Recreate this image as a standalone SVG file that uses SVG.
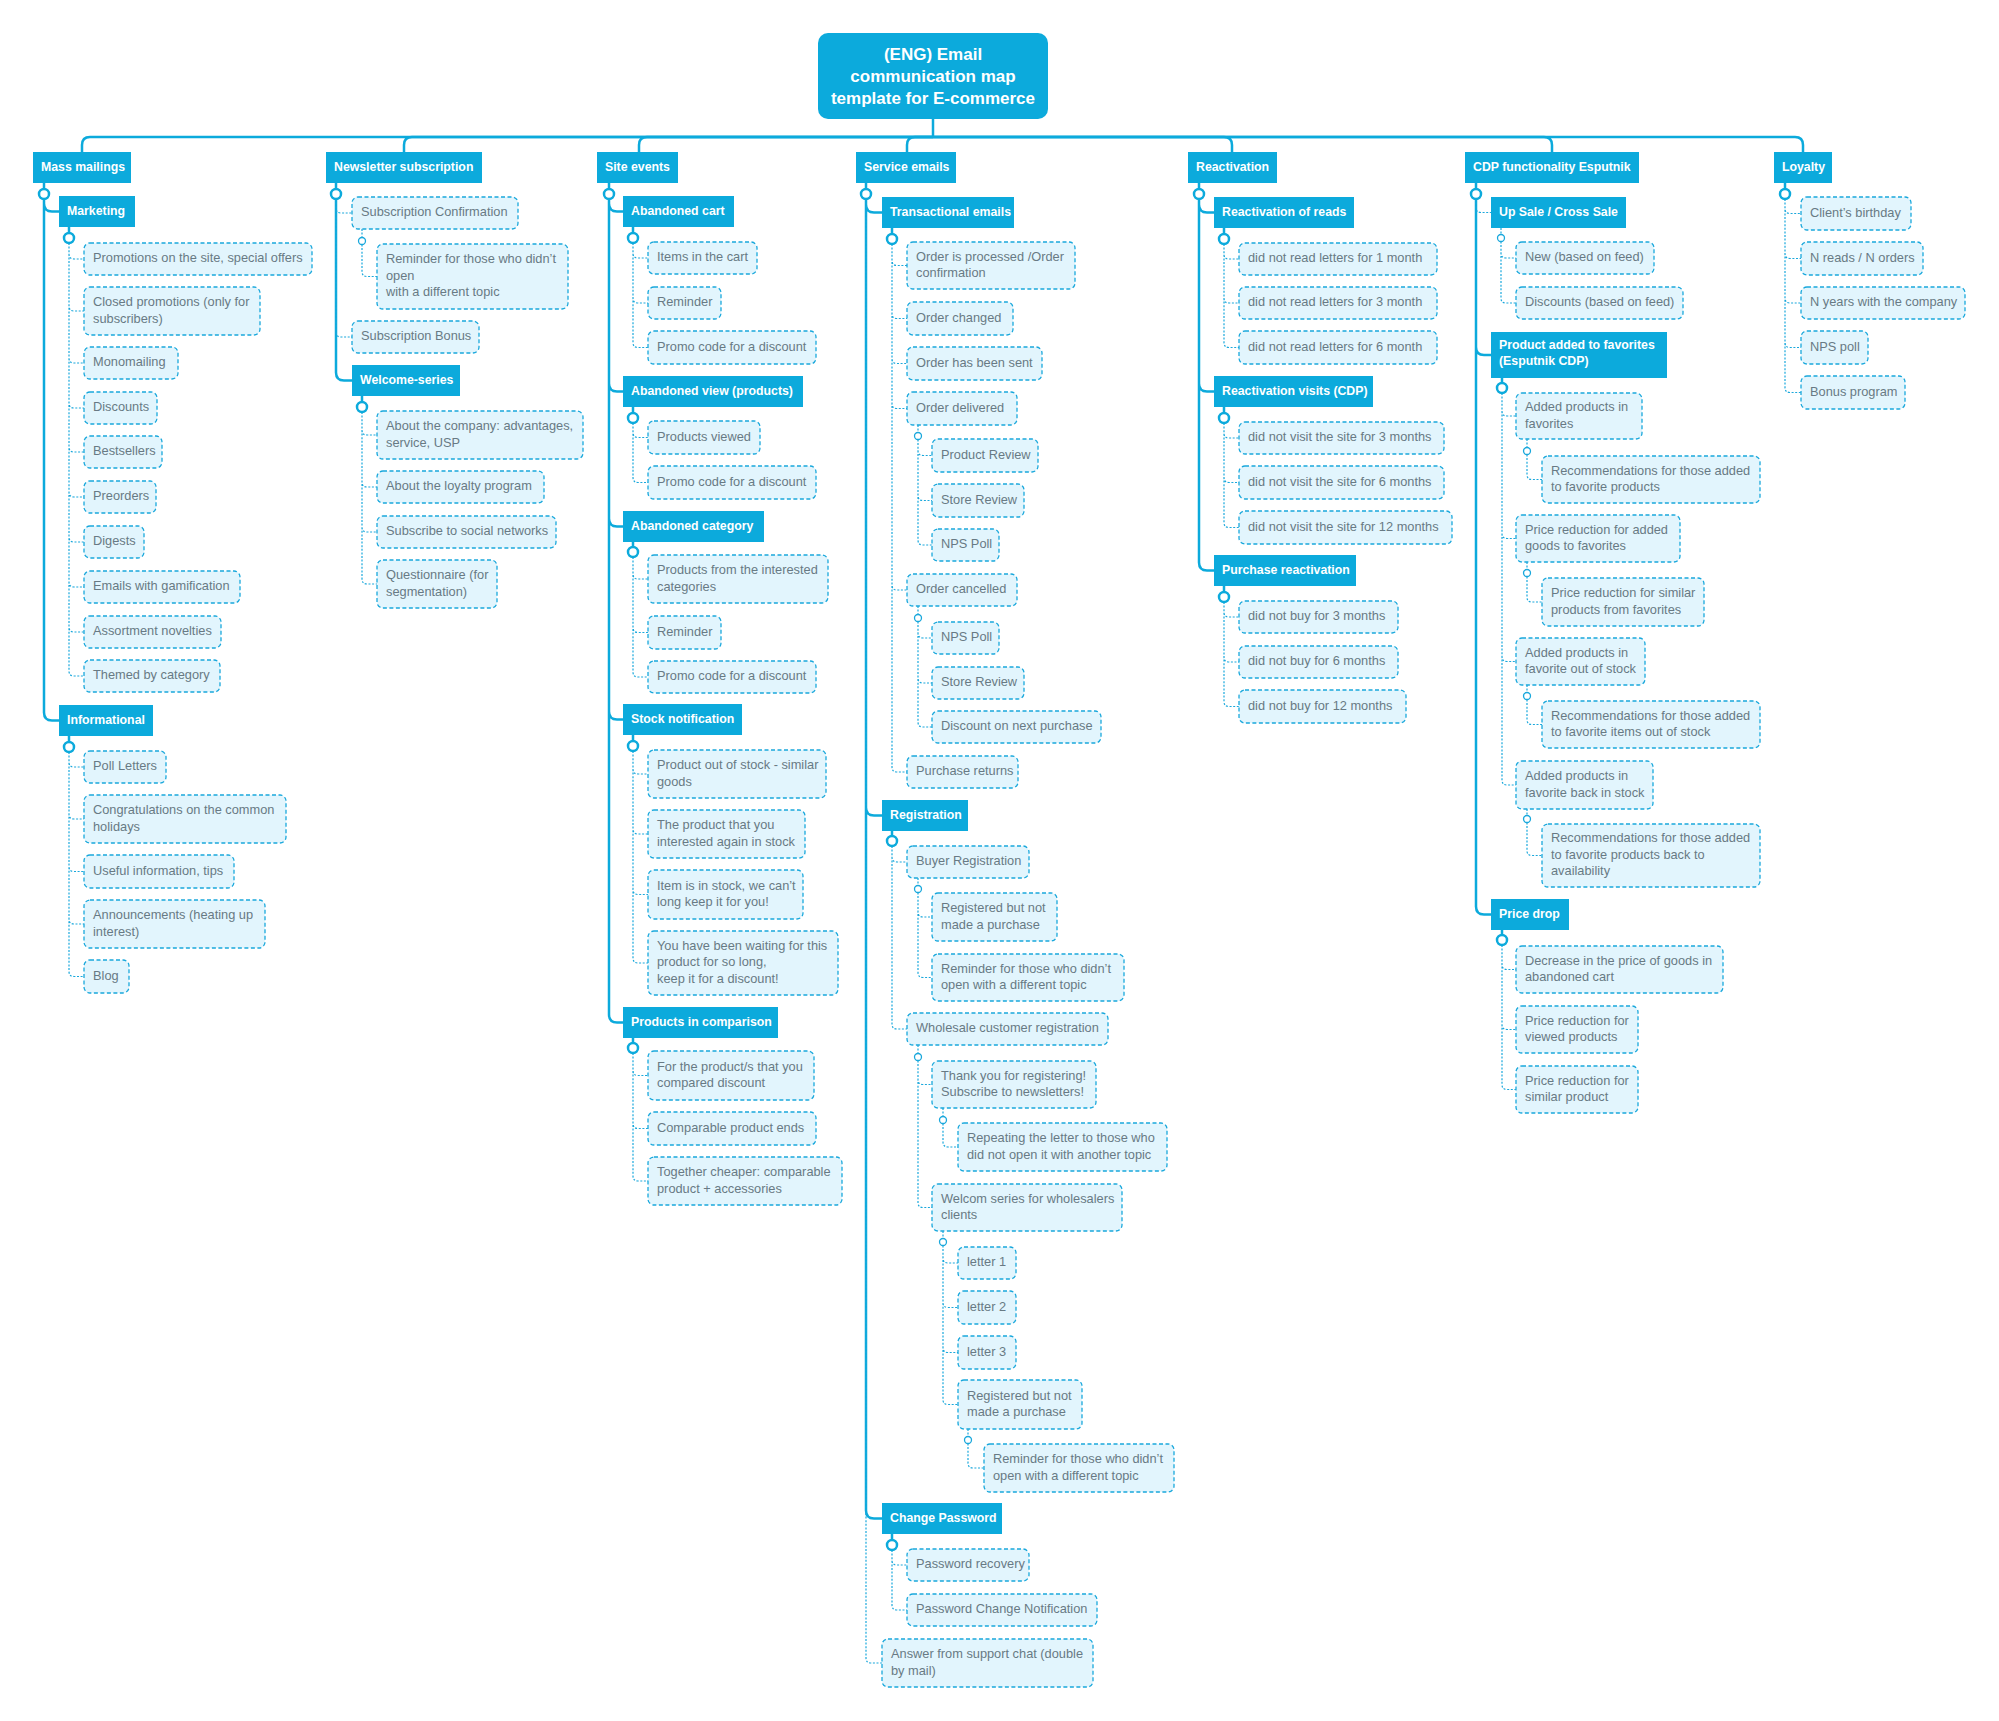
<svg xmlns="http://www.w3.org/2000/svg" width="1999" height="1721" viewBox="0 0 1999 1721">
<style>
.hb{fill:#0CAADC}
.ht{fill:#fff;font-family:"Liberation Sans",Arial,sans-serif;font-weight:bold;font-size:12.3px;transform:translateY(-1px)}
.tt{fill:#fff;font-family:"Liberation Sans",Arial,sans-serif;font-weight:bold;font-size:17px;text-anchor:middle}
.lf{fill:#E2F5FD;stroke:#1AA8DC;stroke-width:1.3;stroke-dasharray:4 2.5}
.lt{fill:#687A84;font-family:"Liberation Sans",Arial,sans-serif;font-size:12.8px;transform:translateY(-1.2px)}
.ts{fill:none;stroke:#0CAADC;stroke-width:2.5}
.td{fill:none;stroke:#1AA8DC;stroke-width:1.2;stroke-dasharray:2 1.6}
.cb{fill:#fff;stroke:#0CAADC;stroke-width:2.5}
.cs{fill:#fff;stroke:#1AA8DC;stroke-width:1.3}
</style>
<rect width="1999" height="1721" fill="#fff"/>
<g id="connectors">
<path class="ts" d="M933,119 V137"/>
<path class="ts" d="M933,137 H90 Q82,137 82,145 V152"/>
<path class="ts" d="M933,137 H412 Q404,137 404,145 V152"/>
<path class="ts" d="M933,137 H647 Q639,137 639,145 V152"/>
<path class="ts" d="M933,137 H915 Q907,137 907,145 V152"/>
<path class="ts" d="M933,137 H1224 Q1232,137 1232,145 V152"/>
<path class="ts" d="M933,137 H1544 Q1552,137 1552,145 V152"/>
<path class="ts" d="M933,137 H1795 Q1803,137 1803,145 V152"/>
<path class="ts" d="M44,183 V199 M44,199 V203.5 Q44,211.5 52,211.5 H59 M44,199 V712.5 Q44,720.5 52,720.5 H59"/>
<path class="ts" d="M69,227 V233 M69,736 V742"/>
<path class="td" d="M69,243 V254 Q69,259 74,259 H84 M69,243 V306 Q69,311 74,311 H84 M69,243 V358 Q69,363 74,363 H84 M69,243 V403 Q69,408 74,408 H84 M69,243 V447 Q69,452 74,452 H84 M69,243 V492 Q69,497 74,497 H84 M69,243 V537 Q69,542 74,542 H84 M69,243 V582 Q69,587 74,587 H84 M69,243 V627 Q69,632 74,632 H84 M69,243 V671 Q69,676 74,676 H84"/>
<path class="td" d="M69,752 V762 Q69,767 74,767 H84 M69,752 V814 Q69,819 74,819 H84 M69,752 V866.5 Q69,871.5 74,871.5 H84 M69,752 V919 Q69,924 74,924 H84 M69,752 V971.5 Q69,976.5 74,976.5 H84"/>
<path class="ts" d="M336,183 V189 M336,199 V372.5 Q336,380.5 344,380.5 H352 M362,396 V402"/>
<path class="td" d="M336,199 V208 Q336,213 341,213 H352 M336,199 V332 Q336,337 341,337 H352"/>
<path class="td" d="M362,229 V237.5 M362,244.5 V271.5 Q362,276.5 367,276.5 H377"/>
<path class="td" d="M362,412 V430 Q362,435 367,435 H377 M362,412 V482 Q362,487 367,487 H377 M362,412 V527 Q362,532 367,532 H377 M362,412 V579 Q362,584 367,584 H377"/>
<path class="ts" d="M609,183 V189 M609,199 V203.5 Q609,211.5 617,211.5 H623 M609,199 V383.5 Q609,391.5 617,391.5 H623 M609,199 V518.5 Q609,526.5 617,526.5 H623 M609,199 V711.5 Q609,719.5 617,719.5 H623 M609,199 V1014.5 Q609,1022.5 617,1022.5 H623"/>
<path class="ts" d="M633,227 V233 M633,407 V413 M633,542 V547 M633,735 V741 M633,1038 V1043"/>
<path class="td" d="M633,243 V253 Q633,258 638,258 H648 M633,243 V298 Q633,303 638,303 H648 M633,243 V342.5 Q633,347.5 638,347.5 H648"/>
<path class="td" d="M633,423 V432.5 Q633,437.5 638,437.5 H648 M633,423 V477.5 Q633,482.5 638,482.5 H648"/>
<path class="td" d="M633,557 V574 Q633,579 638,579 H648 M633,557 V627.5 Q633,632.5 638,632.5 H648 M633,557 V672 Q633,677 638,677 H648"/>
<path class="td" d="M633,751 V769 Q633,774 638,774 H648 M633,751 V829 Q633,834 638,834 H648 M633,751 V889.5 Q633,894.5 638,894.5 H648 M633,751 V958 Q633,963 638,963 H648"/>
<path class="td" d="M633,1053 V1070.5 Q633,1075.5 638,1075.5 H648 M633,1053 V1123.5 Q633,1128.5 638,1128.5 H648 M633,1053 V1176 Q633,1181 638,1181 H648"/>
<path class="ts" d="M866,183 V189 M866,199 V204.5 Q866,212.5 874,212.5 H882 M866,199 V807.5 Q866,815.5 874,815.5 H882 M866,199 V1510.5 Q866,1518.5 874,1518.5 H882"/>
<path class="td" d="M866,199 V1658 Q866,1663 871,1663 H882"/>
<path class="ts" d="M892,228 V234 M892,831 V836 M892,1534 V1540"/>
<path class="td" d="M892,244 V260.5 Q892,265.5 897,265.5 H907 M892,244 V313.5 Q892,318.5 897,318.5 H907 M892,244 V358.5 Q892,363.5 897,363.5 H907 M892,244 V403.5 Q892,408.5 897,408.5 H907 M892,244 V585 Q892,590 897,590 H907 M892,244 V767 Q892,772 897,772 H907"/>
<path class="td" d="M918,425 V432.5 M918,439.5 V450.5 Q918,455.5 923,455.5 H932 M918,439.5 V495.5 Q918,500.5 923,500.5 H932 M918,439.5 V540 Q918,545 923,545 H932"/>
<path class="td" d="M918,606 V614.5 M918,621.5 V633 Q918,638 923,638 H932 M918,621.5 V678 Q918,683 923,683 H932 M918,621.5 V722 Q918,727 923,727 H932"/>
<path class="td" d="M892,846 V857 Q892,862 897,862 H907 M892,846 V1024 Q892,1029 897,1029 H907"/>
<path class="td" d="M918,878 V885.5 M918,892.5 V912 Q918,917 923,917 H932 M918,892.5 V972.5 Q918,977.5 923,977.5 H932"/>
<path class="td" d="M918,1045 V1053.5 M918,1060.5 V1079.5 Q918,1084.5 923,1084.5 H932 M918,1060.5 V1202.5 Q918,1207.5 923,1207.5 H932"/>
<path class="td" d="M943,1108 V1116.5 M943,1123.5 V1142 Q943,1147 948,1147 H958"/>
<path class="td" d="M943,1231 V1238.5 M943,1245.5 V1258 Q943,1263 948,1263 H958 M943,1245.5 V1302.5 Q943,1307.5 948,1307.5 H958 M943,1245.5 V1347.5 Q943,1352.5 948,1352.5 H958 M943,1245.5 V1399.5 Q943,1404.5 948,1404.5 H958"/>
<path class="td" d="M968,1429 V1436.5 M968,1443.5 V1463 Q968,1468 973,1468 H984"/>
<path class="td" d="M892,1550 V1560 Q892,1565 897,1565 H907 M892,1550 V1605 Q892,1610 897,1610 H907"/>
<path class="ts" d="M1199,183 V189 M1199,199 V204.5 Q1199,212.5 1207,212.5 H1214 M1199,199 V383.5 Q1199,391.5 1207,391.5 H1214 M1199,199 V562.5 Q1199,570.5 1207,570.5 H1214"/>
<path class="ts" d="M1224,228 V234 M1224,407 V413 M1224,586 V592"/>
<path class="td" d="M1224,244 V254 Q1224,259 1229,259 H1239 M1224,244 V298 Q1224,303 1229,303 H1239 M1224,244 V342.5 Q1224,347.5 1229,347.5 H1239"/>
<path class="td" d="M1224,423 V433 Q1224,438 1229,438 H1239 M1224,423 V477.5 Q1224,482.5 1229,482.5 H1239 M1224,423 V522.5 Q1224,527.5 1229,527.5 H1239"/>
<path class="td" d="M1224,602 V612 Q1224,617 1229,617 H1239 M1224,602 V657 Q1224,662 1229,662 H1239 M1224,602 V701.5 Q1224,706.5 1229,706.5 H1239"/>
<path class="ts" d="M1476,183 V189 M1476,199 V347 Q1476,355 1484,355 H1491 M1476,199 V906.5 Q1476,914.5 1484,914.5 H1491"/>
<path class="td" d="M1476,199 V207.5 Q1476,212.5 1481,212.5 H1491"/>
<path class="td" d="M1501,228 V234.5 M1501,241.5 V253 Q1501,258 1506,258 H1516 M1501,241.5 V298 Q1501,303 1506,303 H1516"/>
<path class="ts" d="M1502,378 V383 M1502,930 V935"/>
<path class="td" d="M1502,393 V411 Q1502,416 1507,416 H1516 M1502,393 V533.5 Q1502,538.5 1507,538.5 H1516 M1502,393 V656.5 Q1502,661.5 1507,661.5 H1516 M1502,393 V780 Q1502,785 1507,785 H1516"/>
<path class="td" d="M1527,439 V447.5 M1527,454.5 V474.5 Q1527,479.5 1532,479.5 H1542"/>
<path class="td" d="M1527,562 V569.5 M1527,576.5 V597 Q1527,602 1532,602 H1542"/>
<path class="td" d="M1527,685 V692.5 M1527,699.5 V719.5 Q1527,724.5 1532,724.5 H1542"/>
<path class="td" d="M1527,809 V815.5 M1527,822.5 V850.5 Q1527,855.5 1532,855.5 H1542"/>
<path class="td" d="M1502,945 V964.5 Q1502,969.5 1507,969.5 H1516 M1502,945 V1024.5 Q1502,1029.5 1507,1029.5 H1516 M1502,945 V1084.5 Q1502,1089.5 1507,1089.5 H1516"/>
<path class="ts" d="M1785,183 V189"/>
<path class="td" d="M1785,199 V208.5 Q1785,213.5 1790,213.5 H1801 M1785,199 V253.5 Q1785,258.5 1790,258.5 H1801 M1785,199 V298 Q1785,303 1790,303 H1801 M1785,199 V342.5 Q1785,347.5 1790,347.5 H1801 M1785,199 V387.5 Q1785,392.5 1790,392.5 H1801"/>
<circle class="cb" cx="44" cy="194" r="5"/><circle class="cb" cx="69" cy="238" r="5"/><circle class="cb" cx="69" cy="747" r="5"/>
<circle class="cb" cx="336" cy="194" r="5"/><circle class="cs" cx="362" cy="241" r="3.5"/><circle class="cb" cx="362" cy="407" r="5"/>
<circle class="cb" cx="609" cy="194" r="5"/><circle class="cb" cx="633" cy="238" r="5"/><circle class="cb" cx="633" cy="418" r="5"/><circle class="cb" cx="633" cy="552" r="5"/><circle class="cb" cx="633" cy="746" r="5"/><circle class="cb" cx="633" cy="1048" r="5"/>
<circle class="cb" cx="866" cy="194" r="5"/><circle class="cb" cx="892" cy="239" r="5"/><circle class="cs" cx="918" cy="436" r="3.5"/><circle class="cs" cx="918" cy="618" r="3.5"/><circle class="cb" cx="892" cy="841" r="5"/><circle class="cs" cx="918" cy="889" r="3.5"/><circle class="cs" cx="918" cy="1057" r="3.5"/><circle class="cs" cx="943" cy="1120" r="3.5"/><circle class="cs" cx="943" cy="1242" r="3.5"/><circle class="cs" cx="968" cy="1440" r="3.5"/><circle class="cb" cx="892" cy="1545" r="5"/>
<circle class="cb" cx="1199" cy="194" r="5"/><circle class="cb" cx="1224" cy="239" r="5"/><circle class="cb" cx="1224" cy="418" r="5"/><circle class="cb" cx="1224" cy="597" r="5"/>
<circle class="cb" cx="1476" cy="194" r="5"/><circle class="cs" cx="1501" cy="238" r="3.5"/><circle class="cb" cx="1502" cy="388" r="5"/><circle class="cs" cx="1527" cy="451" r="3.5"/><circle class="cs" cx="1527" cy="573" r="3.5"/><circle class="cs" cx="1527" cy="696" r="3.5"/><circle class="cs" cx="1527" cy="819" r="3.5"/><circle class="cb" cx="1502" cy="940" r="5"/>
<circle class="cb" cx="1785" cy="194" r="5"/>
</g>
<g id="title"><rect x="818" y="33" width="230" height="86" rx="10" class="hb"/><text class="tt" x="933" y="60">(ENG) Email</text><text class="tt" x="933" y="82">communication map</text><text class="tt" x="933" y="104">template for E-commerce</text></g>
<g id="mass-mailings"><rect class="hb" x="33" y="152" width="98" height="31"/><text class="ht" x="41" y="171.8">Mass mailings</text></g>
<g id="marketing"><rect class="hb" x="59" y="196" width="76" height="31"/><text class="ht" x="67" y="215.8">Marketing</text></g>
<g id="m1"><rect class="lf" x="84" y="243" width="228" height="32" rx="6"/><text class="lt" x="93" y="263.5">Promotions on the site, special offers</text></g>
<g id="m2"><rect class="lf" x="84" y="287" width="176" height="48" rx="6"/><text class="lt" x="93" y="307.25">Closed promotions (only for<tspan x="93" dy="16.5">subscribers)</tspan></text></g>
<g id="m3"><rect class="lf" x="84" y="347" width="94" height="32" rx="6"/><text class="lt" x="93" y="367.5">Monomailing</text></g>
<g id="m4"><rect class="lf" x="84" y="392" width="73" height="32" rx="6"/><text class="lt" x="93" y="412.5">Discounts</text></g>
<g id="m5"><rect class="lf" x="84" y="436" width="78" height="32" rx="6"/><text class="lt" x="93" y="456.5">Bestsellers</text></g>
<g id="m6"><rect class="lf" x="84" y="481" width="72" height="32" rx="6"/><text class="lt" x="93" y="501.5">Preorders</text></g>
<g id="m7"><rect class="lf" x="84" y="526" width="60" height="32" rx="6"/><text class="lt" x="93" y="546.5">Digests</text></g>
<g id="m8"><rect class="lf" x="84" y="571" width="156" height="32" rx="6"/><text class="lt" x="93" y="591.5">Emails with gamification</text></g>
<g id="m9"><rect class="lf" x="84" y="616" width="137" height="32" rx="6"/><text class="lt" x="93" y="636.5">Assortment novelties</text></g>
<g id="m10"><rect class="lf" x="84" y="660" width="136" height="32" rx="6"/><text class="lt" x="93" y="680.5">Themed by category</text></g>
<g id="informational"><rect class="hb" x="59" y="705" width="94" height="31"/><text class="ht" x="67" y="724.8">Informational</text></g>
<g id="i1"><rect class="lf" x="84" y="751" width="82" height="32" rx="6"/><text class="lt" x="93" y="771.5">Poll Letters</text></g>
<g id="i2"><rect class="lf" x="84" y="795" width="202" height="48" rx="6"/><text class="lt" x="93" y="815.25">Congratulations on the common<tspan x="93" dy="16.5">holidays</tspan></text></g>
<g id="i3"><rect class="lf" x="84" y="855" width="150" height="33" rx="6"/><text class="lt" x="93" y="876">Useful information, tips</text></g>
<g id="i4"><rect class="lf" x="84" y="900" width="181" height="48" rx="6"/><text class="lt" x="93" y="920.25">Announcements (heating up<tspan x="93" dy="16.5">interest)</tspan></text></g>
<g id="i5"><rect class="lf" x="84" y="960" width="45" height="33" rx="6"/><text class="lt" x="93" y="981">Blog</text></g>
<g id="newsletter"><rect class="hb" x="326" y="152" width="156" height="31"/><text class="ht" x="334" y="171.8">Newsletter subscription</text></g>
<g id="n1"><rect class="lf" x="352" y="197" width="166" height="32" rx="6"/><text class="lt" x="361" y="217.5">Subscription Confirmation</text></g>
<g id="n1a"><rect class="lf" x="377" y="244" width="191" height="65" rx="6"/><text class="lt" x="386" y="264.5">Reminder for those who didn’t<tspan x="386" dy="16.5">open</tspan><tspan x="386" dy="16.5">with a different topic</tspan></text></g>
<g id="n2"><rect class="lf" x="352" y="321" width="127" height="32" rx="6"/><text class="lt" x="361" y="341.5">Subscription Bonus</text></g>
<g id="welcome"><rect class="hb" x="352" y="365" width="108" height="31"/><text class="ht" x="360" y="384.8">Welcome-series</text></g>
<g id="w1"><rect class="lf" x="377" y="411" width="206" height="48" rx="6"/><text class="lt" x="386" y="431.25">About the company: advantages,<tspan x="386" dy="16.5">service, USP</tspan></text></g>
<g id="w2"><rect class="lf" x="377" y="471" width="167" height="32" rx="6"/><text class="lt" x="386" y="491.5">About the loyalty program</text></g>
<g id="w3"><rect class="lf" x="377" y="516" width="179" height="32" rx="6"/><text class="lt" x="386" y="536.5">Subscribe to social networks</text></g>
<g id="w4"><rect class="lf" x="377" y="560" width="120" height="48" rx="6"/><text class="lt" x="386" y="580.25">Questionnaire (for<tspan x="386" dy="16.5">segmentation)</tspan></text></g>
<g id="site-events"><rect class="hb" x="597" y="152" width="81" height="31"/><text class="ht" x="605" y="171.8">Site events</text></g>
<g id="ab-cart"><rect class="hb" x="623" y="196" width="111" height="31"/><text class="ht" x="631" y="215.8">Abandoned cart</text></g>
<g id="s1"><rect class="lf" x="648" y="242" width="109" height="32" rx="6"/><text class="lt" x="657" y="262.5">Items in the cart</text></g>
<g id="s2"><rect class="lf" x="648" y="287" width="73" height="32" rx="6"/><text class="lt" x="657" y="307.5">Reminder</text></g>
<g id="s3"><rect class="lf" x="648" y="331" width="168" height="33" rx="6"/><text class="lt" x="657" y="352">Promo code for a discount</text></g>
<g id="ab-view"><rect class="hb" x="623" y="376" width="180" height="31"/><text class="ht" x="631" y="395.8">Abandoned view (products)</text></g>
<g id="s4"><rect class="lf" x="648" y="421" width="112" height="33" rx="6"/><text class="lt" x="657" y="442">Products viewed</text></g>
<g id="s5"><rect class="lf" x="648" y="466" width="168" height="33" rx="6"/><text class="lt" x="657" y="487">Promo code for a discount</text></g>
<g id="ab-cat"><rect class="hb" x="623" y="511" width="141" height="31"/><text class="ht" x="631" y="530.8">Abandoned category</text></g>
<g id="s6"><rect class="lf" x="648" y="555" width="180" height="48" rx="6"/><text class="lt" x="657" y="575.25">Products from the interested<tspan x="657" dy="16.5">categories</tspan></text></g>
<g id="s7"><rect class="lf" x="648" y="616" width="73" height="33" rx="6"/><text class="lt" x="657" y="637">Reminder</text></g>
<g id="s8"><rect class="lf" x="648" y="661" width="168" height="32" rx="6"/><text class="lt" x="657" y="681.5">Promo code for a discount</text></g>
<g id="stock"><rect class="hb" x="623" y="704" width="119" height="31"/><text class="ht" x="631" y="723.8">Stock notification</text></g>
<g id="s9"><rect class="lf" x="648" y="750" width="178" height="48" rx="6"/><text class="lt" x="657" y="770.25">Product out of stock - similar<tspan x="657" dy="16.5">goods</tspan></text></g>
<g id="s10"><rect class="lf" x="648" y="810" width="157" height="48" rx="6"/><text class="lt" x="657" y="830.25">The product that you<tspan x="657" dy="16.5">interested again in stock</tspan></text></g>
<g id="s11"><rect class="lf" x="648" y="870" width="155" height="49" rx="6"/><text class="lt" x="657" y="890.75">Item is in stock, we can’t<tspan x="657" dy="16.5">long keep it for you!</tspan></text></g>
<g id="s12"><rect class="lf" x="648" y="931" width="190" height="64" rx="6"/><text class="lt" x="657" y="951">You have been waiting for this<tspan x="657" dy="16.5">product for so long,</tspan><tspan x="657" dy="16.5">keep it for a discount!</tspan></text></g>
<g id="compare"><rect class="hb" x="623" y="1007" width="155" height="31"/><text class="ht" x="631" y="1026.8">Products in comparison</text></g>
<g id="s13"><rect class="lf" x="648" y="1051" width="166" height="49" rx="6"/><text class="lt" x="657" y="1071.75">For the product/s that you<tspan x="657" dy="16.5">compared discount</tspan></text></g>
<g id="s14"><rect class="lf" x="648" y="1112" width="168" height="33" rx="6"/><text class="lt" x="657" y="1133">Comparable product ends</text></g>
<g id="s15"><rect class="lf" x="648" y="1157" width="194" height="48" rx="6"/><text class="lt" x="657" y="1177.25">Together cheaper: comparable<tspan x="657" dy="16.5">product + accessories</tspan></text></g>
<g id="service"><rect class="hb" x="856" y="152" width="100" height="31"/><text class="ht" x="864" y="171.8">Service emails</text></g>
<g id="transactional"><rect class="hb" x="882" y="197" width="132" height="31"/><text class="ht" x="890" y="216.8">Transactional emails</text></g>
<g id="t1"><rect class="lf" x="907" y="242" width="168" height="47" rx="6"/><text class="lt" x="916" y="261.75">Order is processed /Order<tspan x="916" dy="16.5">confirmation</tspan></text></g>
<g id="t2"><rect class="lf" x="907" y="302" width="106" height="33" rx="6"/><text class="lt" x="916" y="323">Order changed</text></g>
<g id="t3"><rect class="lf" x="907" y="347" width="135" height="33" rx="6"/><text class="lt" x="916" y="368">Order has been sent</text></g>
<g id="t4"><rect class="lf" x="907" y="392" width="110" height="33" rx="6"/><text class="lt" x="916" y="413">Order delivered</text></g>
<g id="t4a"><rect class="lf" x="932" y="439" width="106" height="33" rx="6"/><text class="lt" x="941" y="460">Product Review</text></g>
<g id="t4b"><rect class="lf" x="932" y="484" width="92" height="33" rx="6"/><text class="lt" x="941" y="505">Store Review</text></g>
<g id="t4c"><rect class="lf" x="932" y="529" width="67" height="32" rx="6"/><text class="lt" x="941" y="549.5">NPS Poll</text></g>
<g id="t5"><rect class="lf" x="907" y="574" width="110" height="32" rx="6"/><text class="lt" x="916" y="594.5">Order cancelled</text></g>
<g id="t5a"><rect class="lf" x="932" y="622" width="67" height="32" rx="6"/><text class="lt" x="941" y="642.5">NPS Poll</text></g>
<g id="t5b"><rect class="lf" x="932" y="667" width="92" height="32" rx="6"/><text class="lt" x="941" y="687.5">Store Review</text></g>
<g id="t5c"><rect class="lf" x="932" y="711" width="169" height="32" rx="6"/><text class="lt" x="941" y="731.5">Discount on next purchase</text></g>
<g id="t6"><rect class="lf" x="907" y="756" width="111" height="32" rx="6"/><text class="lt" x="916" y="776.5">Purchase returns</text></g>
<g id="registration"><rect class="hb" x="882" y="800" width="86" height="31"/><text class="ht" x="890" y="819.8">Registration</text></g>
<g id="r1"><rect class="lf" x="907" y="846" width="122" height="32" rx="6"/><text class="lt" x="916" y="866.5">Buyer Registration</text></g>
<g id="r1a"><rect class="lf" x="932" y="893" width="125" height="48" rx="6"/><text class="lt" x="941" y="913.25">Registered but not<tspan x="941" dy="16.5">made a purchase</tspan></text></g>
<g id="r1b"><rect class="lf" x="932" y="954" width="192" height="47" rx="6"/><text class="lt" x="941" y="973.75">Reminder for those who didn’t<tspan x="941" dy="16.5">open with a different topic</tspan></text></g>
<g id="r2"><rect class="lf" x="907" y="1013" width="201" height="32" rx="6"/><text class="lt" x="916" y="1033.5">Wholesale customer registration</text></g>
<g id="r2a"><rect class="lf" x="932" y="1061" width="164" height="47" rx="6"/><text class="lt" x="941" y="1080.75">Thank you for registering!<tspan x="941" dy="16.5">Subscribe to newsletters!</tspan></text></g>
<g id="r2a1"><rect class="lf" x="958" y="1123" width="209" height="48" rx="6"/><text class="lt" x="967" y="1143.25">Repeating the letter to those who<tspan x="967" dy="16.5">did not open it with another topic</tspan></text></g>
<g id="r2b"><rect class="lf" x="932" y="1184" width="190" height="47" rx="6"/><text class="lt" x="941" y="1203.75">Welcom series for wholesalers<tspan x="941" dy="16.5">clients</tspan></text></g>
<g id="r2b1"><rect class="lf" x="958" y="1247" width="58" height="32" rx="6"/><text class="lt" x="967" y="1267.5">letter 1</text></g>
<g id="r2b2"><rect class="lf" x="958" y="1291" width="58" height="33" rx="6"/><text class="lt" x="967" y="1312">letter 2</text></g>
<g id="r2b3"><rect class="lf" x="958" y="1336" width="58" height="33" rx="6"/><text class="lt" x="967" y="1357">letter 3</text></g>
<g id="r2b4"><rect class="lf" x="958" y="1380" width="124" height="49" rx="6"/><text class="lt" x="967" y="1400.75">Registered but not<tspan x="967" dy="16.5">made a purchase</tspan></text></g>
<g id="r2b4a"><rect class="lf" x="984" y="1444" width="190" height="48" rx="6"/><text class="lt" x="993" y="1464.25">Reminder for those who didn’t<tspan x="993" dy="16.5">open with a different topic</tspan></text></g>
<g id="change-pw"><rect class="hb" x="882" y="1503" width="120" height="31"/><text class="ht" x="890" y="1522.8">Change Password</text></g>
<g id="p1"><rect class="lf" x="907" y="1549" width="122" height="32" rx="6"/><text class="lt" x="916" y="1569.5">Password recovery</text></g>
<g id="p2"><rect class="lf" x="907" y="1594" width="190" height="32" rx="6"/><text class="lt" x="916" y="1614.5">Password Change Notification</text></g>
<g id="answer"><rect class="lf" x="882" y="1639" width="211" height="48" rx="6"/><text class="lt" x="891" y="1659.25">Answer from support chat (double<tspan x="891" dy="16.5">by mail)</tspan></text></g>
<g id="reactivation"><rect class="hb" x="1188" y="152" width="89" height="31"/><text class="ht" x="1196" y="171.8">Reactivation</text></g>
<g id="react-reads"><rect class="hb" x="1214" y="197" width="140" height="31"/><text class="ht" x="1222" y="216.8">Reactivation of reads</text></g>
<g id="a1"><rect class="lf" x="1239" y="243" width="198" height="32" rx="6"/><text class="lt" x="1248" y="263.5">did not read letters for 1 month</text></g>
<g id="a2"><rect class="lf" x="1239" y="287" width="198" height="32" rx="6"/><text class="lt" x="1248" y="307.5">did not read letters for 3 month</text></g>
<g id="a3"><rect class="lf" x="1239" y="331" width="198" height="33" rx="6"/><text class="lt" x="1248" y="352">did not read letters for 6 month</text></g>
<g id="react-visits"><rect class="hb" x="1214" y="376" width="159" height="31"/><text class="ht" x="1222" y="395.8">Reactivation visits (CDP)</text></g>
<g id="a4"><rect class="lf" x="1239" y="422" width="205" height="32" rx="6"/><text class="lt" x="1248" y="442.5">did not visit the site for 3 months</text></g>
<g id="a5"><rect class="lf" x="1239" y="466" width="205" height="33" rx="6"/><text class="lt" x="1248" y="487">did not visit the site for 6 months</text></g>
<g id="a6"><rect class="lf" x="1239" y="511" width="213" height="33" rx="6"/><text class="lt" x="1248" y="532">did not visit the site for 12 months</text></g>
<g id="purchase-react"><rect class="hb" x="1214" y="555" width="142" height="31"/><text class="ht" x="1222" y="574.8">Purchase reactivation</text></g>
<g id="a7"><rect class="lf" x="1239" y="601" width="159" height="32" rx="6"/><text class="lt" x="1248" y="621.5">did not buy for 3 months</text></g>
<g id="a8"><rect class="lf" x="1239" y="646" width="159" height="32" rx="6"/><text class="lt" x="1248" y="666.5">did not buy for 6 months</text></g>
<g id="a9"><rect class="lf" x="1239" y="690" width="167" height="33" rx="6"/><text class="lt" x="1248" y="711">did not buy for 12 months</text></g>
<g id="cdp"><rect class="hb" x="1465" y="152" width="174" height="31"/><text class="ht" x="1473" y="171.8">CDP functionality Esputnik</text></g>
<g id="upsale"><rect class="hb" x="1491" y="197" width="135" height="31"/><text class="ht" x="1499" y="216.8">Up Sale / Cross Sale</text></g>
<g id="u1"><rect class="lf" x="1516" y="242" width="138" height="32" rx="6"/><text class="lt" x="1525" y="262.5">New (based on feed)</text></g>
<g id="u2"><rect class="lf" x="1516" y="287" width="167" height="32" rx="6"/><text class="lt" x="1525" y="307.5">Discounts (based on feed)</text></g>
<g id="favorites"><rect class="hb" x="1491" y="332" width="176" height="46"/><text class="ht" x="1499" y="349.5">Product added to favorites<tspan x="1499" dy="16">(Esputnik CDP)</tspan></text></g>
<g id="f1"><rect class="lf" x="1516" y="393" width="126" height="46" rx="6"/><text class="lt" x="1525" y="412.25">Added products in<tspan x="1525" dy="16.5">favorites</tspan></text></g>
<g id="f1a"><rect class="lf" x="1542" y="456" width="218" height="47" rx="6"/><text class="lt" x="1551" y="475.75">Recommendations for those added<tspan x="1551" dy="16.5">to favorite products</tspan></text></g>
<g id="f2"><rect class="lf" x="1516" y="515" width="164" height="47" rx="6"/><text class="lt" x="1525" y="534.75">Price reduction for added<tspan x="1525" dy="16.5">goods to favorites</tspan></text></g>
<g id="f2a"><rect class="lf" x="1542" y="578" width="162" height="48" rx="6"/><text class="lt" x="1551" y="598.25">Price reduction for similar<tspan x="1551" dy="16.5">products from favorites</tspan></text></g>
<g id="f3"><rect class="lf" x="1516" y="638" width="129" height="47" rx="6"/><text class="lt" x="1525" y="657.75">Added products in<tspan x="1525" dy="16.5">favorite out of stock</tspan></text></g>
<g id="f3a"><rect class="lf" x="1542" y="701" width="218" height="47" rx="6"/><text class="lt" x="1551" y="720.75">Recommendations for those added<tspan x="1551" dy="16.5">to favorite items out of stock</tspan></text></g>
<g id="f4"><rect class="lf" x="1516" y="761" width="137" height="48" rx="6"/><text class="lt" x="1525" y="781.25">Added products in<tspan x="1525" dy="16.5">favorite back in stock</tspan></text></g>
<g id="f4a"><rect class="lf" x="1542" y="824" width="218" height="63" rx="6"/><text class="lt" x="1551" y="843.5">Recommendations for those added<tspan x="1551" dy="16.5">to favorite products back to</tspan><tspan x="1551" dy="16.5">availability</tspan></text></g>
<g id="price-drop"><rect class="hb" x="1491" y="899" width="78" height="31"/><text class="ht" x="1499" y="918.8">Price drop</text></g>
<g id="d1"><rect class="lf" x="1516" y="946" width="207" height="47" rx="6"/><text class="lt" x="1525" y="965.75">Decrease in the price of goods in<tspan x="1525" dy="16.5">abandoned cart</tspan></text></g>
<g id="d2"><rect class="lf" x="1516" y="1006" width="122" height="47" rx="6"/><text class="lt" x="1525" y="1025.75">Price reduction for<tspan x="1525" dy="16.5">viewed products</tspan></text></g>
<g id="d3"><rect class="lf" x="1516" y="1066" width="122" height="47" rx="6"/><text class="lt" x="1525" y="1085.75">Price reduction for<tspan x="1525" dy="16.5">similar product</tspan></text></g>
<g id="loyalty"><rect class="hb" x="1774" y="152" width="58" height="31"/><text class="ht" x="1782" y="171.8">Loyalty</text></g>
<g id="y1"><rect class="lf" x="1801" y="197" width="110" height="33" rx="6"/><text class="lt" x="1810" y="218">Client’s birthday</text></g>
<g id="y2"><rect class="lf" x="1801" y="242" width="122" height="33" rx="6"/><text class="lt" x="1810" y="263">N reads / N orders</text></g>
<g id="y3"><rect class="lf" x="1801" y="287" width="164" height="32" rx="6"/><text class="lt" x="1810" y="307.5">N years with the company</text></g>
<g id="y4"><rect class="lf" x="1801" y="331" width="67" height="33" rx="6"/><text class="lt" x="1810" y="352">NPS poll</text></g>
<g id="y5"><rect class="lf" x="1801" y="376" width="104" height="33" rx="6"/><text class="lt" x="1810" y="397">Bonus program</text></g>
</svg>
